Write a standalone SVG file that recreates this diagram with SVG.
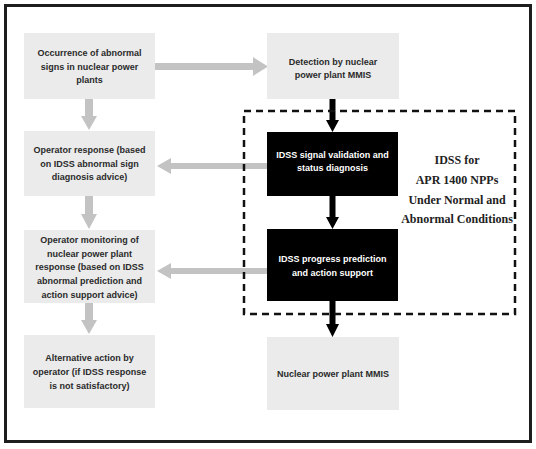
<svg xmlns="http://www.w3.org/2000/svg" width="536" height="449" viewBox="0 0 536 449">
<style>
.box{fill:#ebebeb;}
.blk{fill:#000;}
.t{font-family:"Liberation Sans",Arial,sans-serif;font-size:9px;font-weight:bold;fill:#2a2a2a;text-anchor:middle;}
.w{fill:#fff;}
.s{font-family:"Liberation Serif","Times New Roman",serif;font-size:12px;font-weight:bold;fill:#222;text-anchor:middle;}
.ga{fill:#c3c3c3;}
.ba{fill:#000;}
</style>
<rect x="0" y="0" width="536" height="449" fill="#fff"/>
<rect x="5.5" y="5.5" width="525" height="436" fill="none" stroke="#1e1e1e" stroke-width="3"/>

<g id="connectors">
<polygon class="ga" points="155,63 253,63 253,57 268,66.5 253,76 253,70 155,70"/>
<polygon class="ga" points="85,99 93,99 93,116 97,116 89,130 81,116 85,116"/>
<polygon class="ga" points="85,196 93,196 93,214 97,214 89,229 81,214 85,214"/>
<polygon class="ga" points="85,303 93,303 93,320 97,320 89,334 81,320 85,320"/>
<polygon class="ga" points="267,163 171,163 171,158 157,166 171,174 171,169 267,169"/>
<polygon class="ga" points="267,268 171,268 171,263 157,271 171,279 171,274 267,274"/>
<polygon class="ba" points="329.5,99 335.5,99 335.5,120 339,120 332.5,132 326,120 329.5,120"/>
<polygon class="ba" points="329.5,196 335.5,196 335.5,217 339,217 332.5,229 326,217 329.5,217"/>
<polygon class="ba" points="329.5,301 335.5,301 335.5,324 339,324 332.5,337 326,324 329.5,324"/>
</g>

<g id="idss-group">
<rect x="244" y="111" width="271" height="203" fill="none" stroke="#111" stroke-width="2.5" stroke-dasharray="7 5"/>
<text class="s" x="457" y="164">IDSS for</text>
<text class="s" x="457" y="184">APR 1400 NPPs</text>
<text class="s" x="457" y="204">Under Normal and</text>
<text class="s" x="457" y="223">Abnormal Conditions</text>
</g>

<g id="n1">
<rect class="box" x="24" y="33" width="131" height="66"/>
<text class="t" x="89.5" y="56">Occurrence of abnormal</text>
<text class="t" x="89.5" y="69.5">signs in nuclear power</text>
<text class="t" x="89.5" y="83">plants</text>
</g>
<g id="n2">
<rect class="box" x="24" y="131" width="131" height="65"/>
<text class="t" x="89.5" y="153">Operator response (based</text>
<text class="t" x="89.5" y="166.5">on IDSS abnormal sign</text>
<text class="t" x="89.5" y="180">diagnosis advice)</text>
</g>
<g id="n3">
<rect class="box" x="24" y="230" width="131" height="73"/>
<text class="t" x="89.5" y="243">Operator monitoring of</text>
<text class="t" x="89.5" y="256.7">nuclear power plant</text>
<text class="t" x="89.5" y="270.4">response (based on IDSS</text>
<text class="t" x="89.5" y="284.1">abnormal prediction and</text>
<text class="t" x="89.5" y="297.8">action support advice)</text>
</g>
<g id="n4">
<rect class="box" x="24" y="335" width="131" height="73"/>
<text class="t" x="89.5" y="361">Alternative action by</text>
<text class="t" x="89.5" y="375">operator (if IDSS response</text>
<text class="t" x="89.5" y="389">is not satisfactory)</text>
</g>
<g id="n5">
<rect class="box" x="267" y="33" width="132" height="66"/>
<text class="t" x="333" y="64.5">Detection by nuclear</text>
<text class="t" x="333" y="78">power plant MMIS</text>
</g>
<g id="n6">
<rect class="blk" x="267" y="132" width="131" height="64"/>
<text class="t w" x="332.5" y="157.5">IDSS signal validation and</text>
<text class="t w" x="332.5" y="171">status diagnosis</text>
</g>
<g id="n7">
<rect class="blk" x="267" y="229" width="131" height="72"/>
<text class="t w" x="332.5" y="262">IDSS progress prediction</text>
<text class="t w" x="332.5" y="275.5">and action support</text>
</g>
<g id="n8">
<rect class="box" x="267" y="337" width="132" height="73"/>
<text class="t" x="333" y="377">Nuclear power plant MMIS</text>
</g>
</svg>
